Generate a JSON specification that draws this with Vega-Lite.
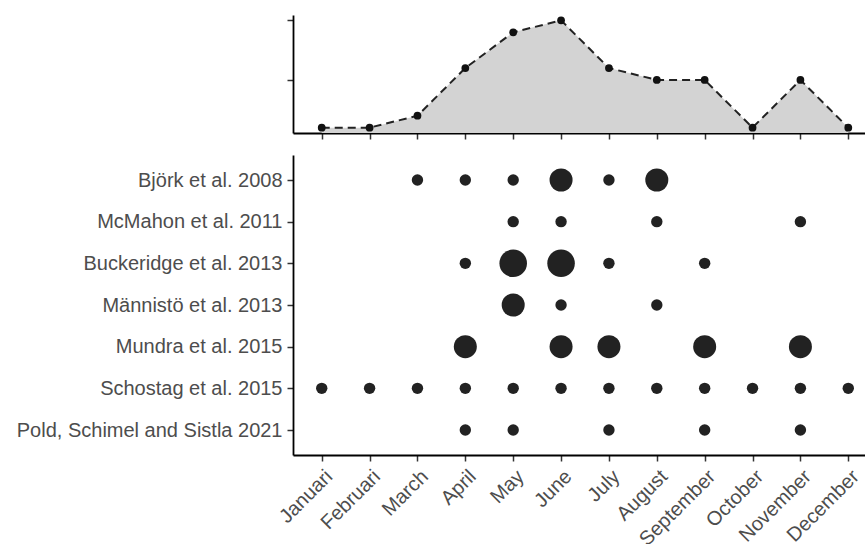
{
  "$schema": "https://vega.github.io/schema/vega-lite/v6.json",
  "background": "white",
  "padding": {"left": 16, "top": 15, "right": 0, "bottom": 0},
  "config": {
    "view": {"stroke": null},
    "axis": {
      "grid": false,
      "title": null,
      "domainColor": "#000000",
      "domainWidth": 1.8,
      "tickColor": "#333333",
      "tickSize": 6,
      "tickWidth": 1.5,
      "labelFont": "Liberation Sans",
      "labelFontSize": 20,
      "labelColor": "#4d4d4d",
      "labelPadding": 5,
      "labelLimit": 0
    }
  },
  "datasets": {
    "monthly": [
      {"month": "Januari", "total": 1},
      {"month": "Februari", "total": 1},
      {"month": "March", "total": 2},
      {"month": "April", "total": 6},
      {"month": "May", "total": 9},
      {"month": "June", "total": 10},
      {"month": "July", "total": 6},
      {"month": "August", "total": 5},
      {"month": "September", "total": 5},
      {"month": "October", "total": 1},
      {"month": "November", "total": 5},
      {"month": "December", "total": 1}
    ],
    "dots": [
      {"study": "Björk et al. 2008", "month": "March", "n": 1},
      {"study": "Björk et al. 2008", "month": "April", "n": 1},
      {"study": "Björk et al. 2008", "month": "May", "n": 1},
      {"study": "Björk et al. 2008", "month": "June", "n": 2},
      {"study": "Björk et al. 2008", "month": "July", "n": 1},
      {"study": "Björk et al. 2008", "month": "August", "n": 2},
      {"study": "McMahon et al. 2011", "month": "May", "n": 1},
      {"study": "McMahon et al. 2011", "month": "June", "n": 1},
      {"study": "McMahon et al. 2011", "month": "August", "n": 1},
      {"study": "McMahon et al. 2011", "month": "November", "n": 1},
      {"study": "Buckeridge et al. 2013", "month": "April", "n": 1},
      {"study": "Buckeridge et al. 2013", "month": "May", "n": 3},
      {"study": "Buckeridge et al. 2013", "month": "June", "n": 3},
      {"study": "Buckeridge et al. 2013", "month": "July", "n": 1},
      {"study": "Buckeridge et al. 2013", "month": "September", "n": 1},
      {"study": "Männistö et al. 2013", "month": "May", "n": 2},
      {"study": "Männistö et al. 2013", "month": "June", "n": 1},
      {"study": "Männistö et al. 2013", "month": "August", "n": 1},
      {"study": "Mundra et al. 2015", "month": "April", "n": 2},
      {"study": "Mundra et al. 2015", "month": "June", "n": 2},
      {"study": "Mundra et al. 2015", "month": "July", "n": 2},
      {"study": "Mundra et al. 2015", "month": "September", "n": 2},
      {"study": "Mundra et al. 2015", "month": "November", "n": 2},
      {"study": "Schostag et al. 2015", "month": "Januari", "n": 1},
      {"study": "Schostag et al. 2015", "month": "Februari", "n": 1},
      {"study": "Schostag et al. 2015", "month": "March", "n": 1},
      {"study": "Schostag et al. 2015", "month": "April", "n": 1},
      {"study": "Schostag et al. 2015", "month": "May", "n": 1},
      {"study": "Schostag et al. 2015", "month": "June", "n": 1},
      {"study": "Schostag et al. 2015", "month": "July", "n": 1},
      {"study": "Schostag et al. 2015", "month": "August", "n": 1},
      {"study": "Schostag et al. 2015", "month": "September", "n": 1},
      {"study": "Schostag et al. 2015", "month": "October", "n": 1},
      {"study": "Schostag et al. 2015", "month": "November", "n": 1},
      {"study": "Schostag et al. 2015", "month": "December", "n": 1},
      {"study": "Pold, Schimel and Sistla 2021", "month": "April", "n": 1},
      {"study": "Pold, Schimel and Sistla 2021", "month": "May", "n": 1},
      {"study": "Pold, Schimel and Sistla 2021", "month": "July", "n": 1},
      {"study": "Pold, Schimel and Sistla 2021", "month": "September", "n": 1},
      {"study": "Pold, Schimel and Sistla 2021", "month": "November", "n": 1}
    ]
  },
  "spacing": 15,
  "vconcat": [
    {
      "width": 584,
      "height": 118,
      "data": {"name": "monthly"},
      "encoding": {
        "x": {
          "field": "month",
          "type": "ordinal",
          "sort": ["Januari", "Februari", "March", "April", "May", "June", "July", "August", "September", "October", "November", "December"],
          "scale": {"type": "point", "padding": 0.6},
          "axis": {"labels": false}
        },
        "y": {
          "field": "total",
          "type": "quantitative",
          "scale": {"domain": [0.55, 10.45], "zero": false, "nice": false},
          "axis": {"values": [5, 10], "labels": false}
        }
      },
      "layer": [
        {"mark": {"type": "area", "color": "#d3d3d3", "clip": true, "opacity": 1}},
        {"mark": {"type": "line", "color": "#222222", "strokeDash": [8, 5], "strokeWidth": 2}},
        {"mark": {"type": "circle", "color": "#111111", "size": 60, "opacity": 1}}
      ]
    },
    {
      "width": 584,
      "height": 300,
      "data": {"name": "dots"},
      "mark": {"type": "circle", "color": "#222222", "opacity": 1},
      "encoding": {
        "x": {
          "field": "month",
          "type": "ordinal",
          "sort": ["Januari", "Februari", "March", "April", "May", "June", "July", "August", "September", "October", "November", "December"],
          "scale": {"type": "point", "padding": 0.6},
          "axis": {"labelAngle": -45, "labelAlign": "right", "labelBaseline": "top"}
        },
        "y": {
          "field": "study",
          "type": "nominal",
          "sort": ["Björk et al. 2008", "McMahon et al. 2011", "Buckeridge et al. 2013", "Männistö et al. 2013", "Mundra et al. 2015", "Schostag et al. 2015", "Pold, Schimel and Sistla 2021"],
          "scale": {"type": "point", "padding": 0.6}
        },
        "size": {
          "field": "n",
          "type": "quantitative",
          "scale": {"domain": [1, 2, 3], "range": [130, 530, 760]},
          "legend": null
        }
      }
    }
  ]
}
